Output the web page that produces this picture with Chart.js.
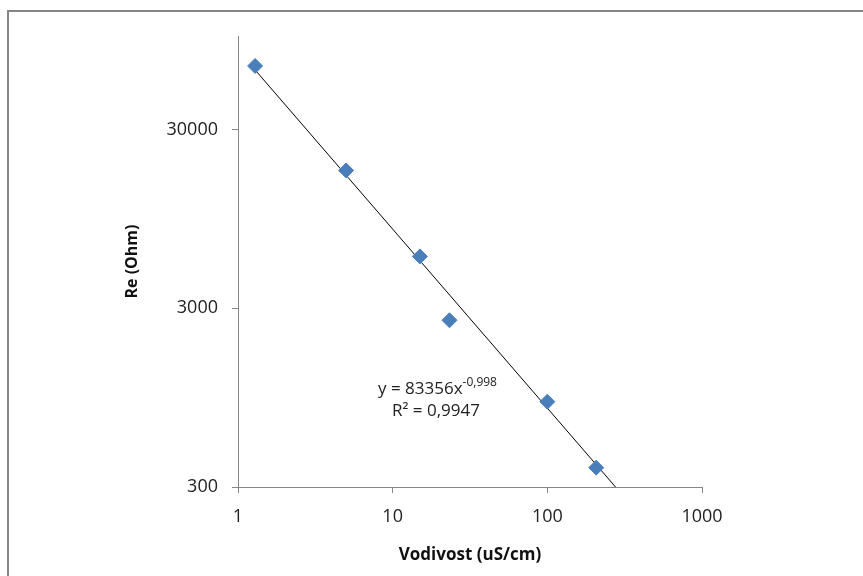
<!DOCTYPE html>
<html lang="sl">
<head>
    <meta charset="UTF-8">
    <title>Re vs Vodivost</title>
    <script src="https://cdn.jsdelivr.net/npm/chart.js"></script>
    <style>
        body {
            margin: 0;
            padding: 0;
            background: #ffffff;
        }
        canvas {
            display: block;
        }
    </style>
</head>
<body>
    <canvas id="reChart" width="863" height="576"></canvas>

    <script>
        // measured points
        const conductivity = [1.29, 5.0, 15.0, 23.3, 100, 207];
        const resistance = [68000, 17700, 5850, 2570, 900, 385];

        // power trendline ends (y = 83356x^-0,998)
        const trendX = [1.29, 276];
        const trendY = [64600, 300];

        const xTicks = [1, 10, 100, 1000];
        const yTicks = [300, 3000, 30000];

        const font = "'Open Sans', 'Noto Sans', sans-serif";
        const axisGrey = '#868686';

        // grey frame around the chart + trendline equation
        const decorations = {
            id: 'decorations',
            beforeDraw(chart) {
                const ctx = chart.ctx;
                ctx.save();
                ctx.strokeStyle = axisGrey;
                ctx.lineWidth = 2;
                ctx.strokeRect(8, 11, 1000, 1000);
                ctx.restore();
            },
            afterDraw(chart) {
                const ctx = chart.ctx;
                ctx.save();
                ctx.fillStyle = '#222';
                ctx.textBaseline = 'middle';
                ctx.textAlign = 'left';
                ctx.font = '17px ' + font;
                const main = 'y = 83356x';
                ctx.fillText(main, 378, 389);
                const w = ctx.measureText(main).width;
                ctx.font = '12px ' + font;
                ctx.fillText('-0,998', 378 + w, 383);
                ctx.font = '17px ' + font;
                ctx.fillText('R\u00B2 = 0,9947', 392, 411);
                ctx.restore();
            }
        };

        const ctx = document.getElementById('reChart').getContext('2d');
        new Chart(ctx, {
            type: 'scatter',
            data: {
                datasets: [{
                    label: 'Re',
                    data: conductivity.map((x, i) => ({ x: x, y: resistance[i] })),
                    pointStyle: 'rectRot',
                    pointRadius: 7.5,
                    pointHoverRadius: 7.5,
                    backgroundColor: '#4a7ebb',
                    borderColor: '#4a7ebb',
                    borderWidth: 1,
                    order: 1
                }, {
                    label: 'Trend',
                    type: 'line',
                    data: trendX.map((x, i) => ({ x: x, y: trendY[i] })),
                    borderColor: '#000000',
                    borderWidth: 1,
                    pointRadius: 0,
                    fill: false,
                    order: 2
                }]
            },
            options: {
                responsive: false,
                animation: false,
                layout: {
                    padding: { left: 123, top: 36, right: 161, bottom: 11 }
                },
                plugins: {
                    legend: { display: false },
                    tooltip: { enabled: false }
                },
                scales: {
                    x: {
                        type: 'logarithmic',
                        min: 1,
                        max: 1000,
                        afterBuildTicks: s => { s.ticks = xTicks.map(v => ({ value: v })); },
                        afterFit: s => { s.height = 78; },
                        grid: {
                            drawOnChartArea: false,
                            drawTicks: true,
                            tickLength: 6,
                            color: axisGrey
                        },
                        border: { color: axisGrey, width: 1 },
                        ticks: {
                            padding: 13,
                            color: '#222',
                            font: { family: font, size: 18 },
                            maxRotation: 0,
                            callback: v => String(v)
                        },
                        title: {
                            display: true,
                            text: 'Vodivost (uS/cm)',
                            color: '#111',
                            padding: 0,
                            font: { family: font, size: 17, weight: 'bold' }
                        }
                    },
                    y: {
                        type: 'logarithmic',
                        min: 300,
                        max: 100000,
                        afterBuildTicks: s => { s.ticks = yTicks.map(v => ({ value: v })); },
                        afterFit: s => { s.width = 115; },
                        grid: {
                            drawOnChartArea: false,
                            drawTicks: true,
                            tickLength: 6,
                            color: axisGrey
                        },
                        border: { color: axisGrey, width: 1 },
                        ticks: {
                            padding: 14,
                            color: '#222',
                            font: { family: font, size: 18 },
                            callback: v => String(v)
                        },
                        title: {
                            display: true,
                            text: 'Re (Ohm)',
                            color: '#111',
                            padding: 0,
                            font: { family: font, size: 16, weight: 'bold' }
                        }
                    }
                }
            },
            plugins: [decorations]
        });
    </script>
</body>
</html>
